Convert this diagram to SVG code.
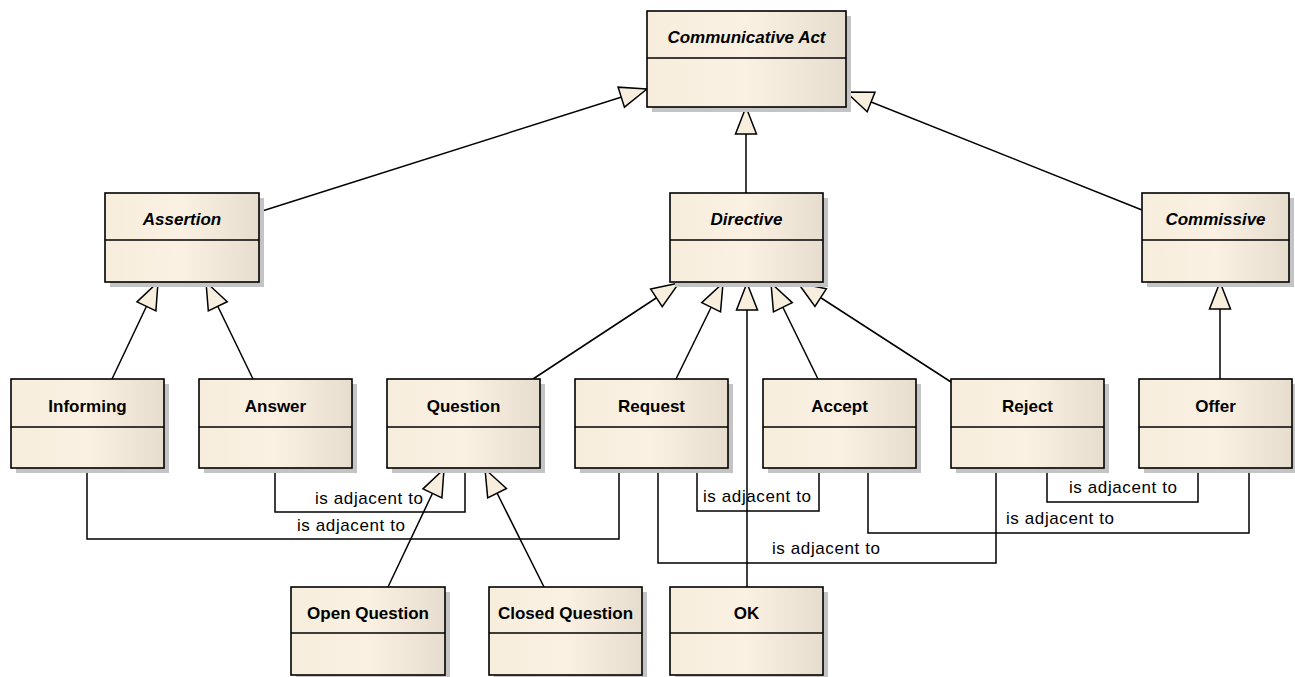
<svg xmlns="http://www.w3.org/2000/svg" width="1295" height="677" viewBox="0 0 1295 677">
<defs>
<linearGradient id="fill" x1="0" y1="0" x2="1" y2="0">
<stop offset="0" stop-color="#F7EDDC"/>
<stop offset="0.5" stop-color="#FAF1E3"/>
<stop offset="1" stop-color="#E6DDCF"/>
</linearGradient>
<marker id="gen" markerUnits="userSpaceOnUse" markerWidth="32" markerHeight="26" viewBox="-29 -13 32 26" refX="0" refY="0" orient="auto">
<path d="M0,0 L-27,-10.5 L-27,10.5 Z" fill="#F8EEDE" stroke="#000" stroke-width="1.5" stroke-linejoin="miter"/>
</marker>
<style>
.sh{fill:#C4C4C4}
.box{fill:url(#fill);stroke:#000;stroke-width:1.6}
.div{stroke:#000;stroke-width:1.6}
.t{font-family:"Liberation Sans",Arial,sans-serif;font-size:17px;font-weight:bold;text-anchor:middle;fill:#000}
.ti{font-style:italic}
.c{fill:none;stroke:#000;stroke-width:1.5}
.g{marker-end:url(#gen)}
.lbl{font-family:"Liberation Sans",Arial,sans-serif;font-size:17px;fill:#000}
</style>
</defs>
<rect width="1295" height="677" fill="#fff"/>

<g id="connectors">
<line class="c g" x1="259" y1="212" x2="647" y2="89"/>
<line class="c g" x1="746" y1="193" x2="746" y2="107"/>
<line class="c g" x1="1142" y1="210" x2="846" y2="92"/>
<line class="c g" x1="112" y1="379" x2="158" y2="282"/>
<line class="c g" x1="253" y1="379" x2="206" y2="282"/>
<line class="c g" x1="533" y1="379" x2="679" y2="283"/>
<line class="c g" x1="676" y1="379" x2="723" y2="283"/>
<line class="c g" x1="747" y1="587" x2="747" y2="283"/>
<line class="c g" x1="818" y1="379" x2="771" y2="283"/>
<line class="c g" x1="951" y1="382" x2="798" y2="283"/>
<line class="c g" x1="1220" y1="379" x2="1220" y2="282"/>
<line class="c g" x1="388" y1="587" x2="444" y2="469"/>
<line class="c g" x1="544" y1="587" x2="485" y2="469"/>
<path class="c" d="M87,468 V539 H619 V468"/>
<path class="c" d="M275,468 V512 H465 V468"/>
<path class="c" d="M697,468 V511 H819 V468"/>
<path class="c" d="M658,468 V563 H996 V468"/>
<path class="c" d="M868,468 V533 H1249 V468"/>
<path class="c" d="M1047,468 V502 H1198 V468"/>
<text class="lbl" x="297" y="531" textLength="108">is adjacent to</text>
<text class="lbl" x="315" y="504" textLength="108">is adjacent to</text>
<text class="lbl" x="703" y="502" textLength="108">is adjacent to</text>
<text class="lbl" x="772" y="554" textLength="108">is adjacent to</text>
<text class="lbl" x="1006" y="524" textLength="108">is adjacent to</text>
<text class="lbl" x="1069" y="493" textLength="108">is adjacent to</text>
</g>

<g id="communicative-act">
<rect class="sh" x="652" y="16" width="199" height="96"/>
<rect class="box" x="647" y="11" width="199" height="96"/>
<line class="div" x1="647" y1="58" x2="846" y2="58"/>
<text class="t ti" x="746.5" y="43">Communicative Act</text>
</g>

<g id="assertion">
<rect class="sh" x="110" y="198" width="154" height="89"/>
<rect class="box" x="105" y="193" width="154" height="89"/>
<line class="div" x1="105" y1="240" x2="259" y2="240"/>
<text class="t ti" x="182" y="225">Assertion</text>
</g>

<g id="directive">
<rect class="sh" x="675" y="198" width="153" height="89"/>
<rect class="box" x="670" y="193" width="153" height="89"/>
<line class="div" x1="670" y1="240" x2="823" y2="240"/>
<text class="t ti" x="746.5" y="225">Directive</text>
</g>

<g id="commissive">
<rect class="sh" x="1147" y="198" width="147" height="89"/>
<rect class="box" x="1142" y="193" width="147" height="89"/>
<line class="div" x1="1142" y1="240" x2="1289" y2="240"/>
<text class="t ti" x="1215.5" y="225">Commissive</text>
</g>

<g id="informing">
<rect class="sh" x="16" y="384" width="153" height="89"/>
<rect class="box" x="11" y="379" width="153" height="89"/>
<line class="div" x1="11" y1="427" x2="164" y2="427"/>
<text class="t" x="87.5" y="412">Informing</text>
</g>

<g id="answer">
<rect class="sh" x="204" y="384" width="153" height="89"/>
<rect class="box" x="199" y="379" width="153" height="89"/>
<line class="div" x1="199" y1="427" x2="352" y2="427"/>
<text class="t" x="275.5" y="412">Answer</text>
</g>

<g id="question">
<rect class="sh" x="392" y="384" width="153" height="89"/>
<rect class="box" x="387" y="379" width="153" height="89"/>
<line class="div" x1="387" y1="427" x2="540" y2="427"/>
<text class="t" x="463.5" y="412">Question</text>
</g>

<g id="request">
<rect class="sh" x="580" y="384" width="153" height="89"/>
<rect class="box" x="575" y="379" width="153" height="89"/>
<line class="div" x1="575" y1="427" x2="728" y2="427"/>
<text class="t" x="651.5" y="412">Request</text>
</g>

<g id="accept">
<rect class="sh" x="768" y="384" width="153" height="89"/>
<rect class="box" x="763" y="379" width="153" height="89"/>
<line class="div" x1="763" y1="427" x2="916" y2="427"/>
<text class="t" x="839.5" y="412">Accept</text>
</g>

<g id="reject">
<rect class="sh" x="956" y="384" width="153" height="89"/>
<rect class="box" x="951" y="379" width="153" height="89"/>
<line class="div" x1="951" y1="427" x2="1104" y2="427"/>
<text class="t" x="1027.5" y="412">Reject</text>
</g>

<g id="offer">
<rect class="sh" x="1144" y="384" width="153" height="89"/>
<rect class="box" x="1139" y="379" width="153" height="89"/>
<line class="div" x1="1139" y1="427" x2="1292" y2="427"/>
<text class="t" x="1215.5" y="412">Offer</text>
</g>

<g id="open-question">
<rect class="sh" x="296" y="592" width="154" height="88"/>
<rect class="box" x="291" y="587" width="154" height="88"/>
<line class="div" x1="291" y1="633" x2="445" y2="633"/>
<text class="t" x="368" y="619">Open Question</text>
</g>

<g id="closed-question">
<rect class="sh" x="494" y="592" width="153" height="88"/>
<rect class="box" x="489" y="587" width="153" height="88"/>
<line class="div" x1="489" y1="633" x2="642" y2="633"/>
<text class="t" x="565.5" y="619">Closed Question</text>
</g>

<g id="ok">
<rect class="sh" x="675" y="592" width="153" height="88"/>
<rect class="box" x="670" y="587" width="153" height="88"/>
<line class="div" x1="670" y1="633" x2="823" y2="633"/>
<text class="t" x="746.5" y="619">OK</text>
</g>
</svg>
